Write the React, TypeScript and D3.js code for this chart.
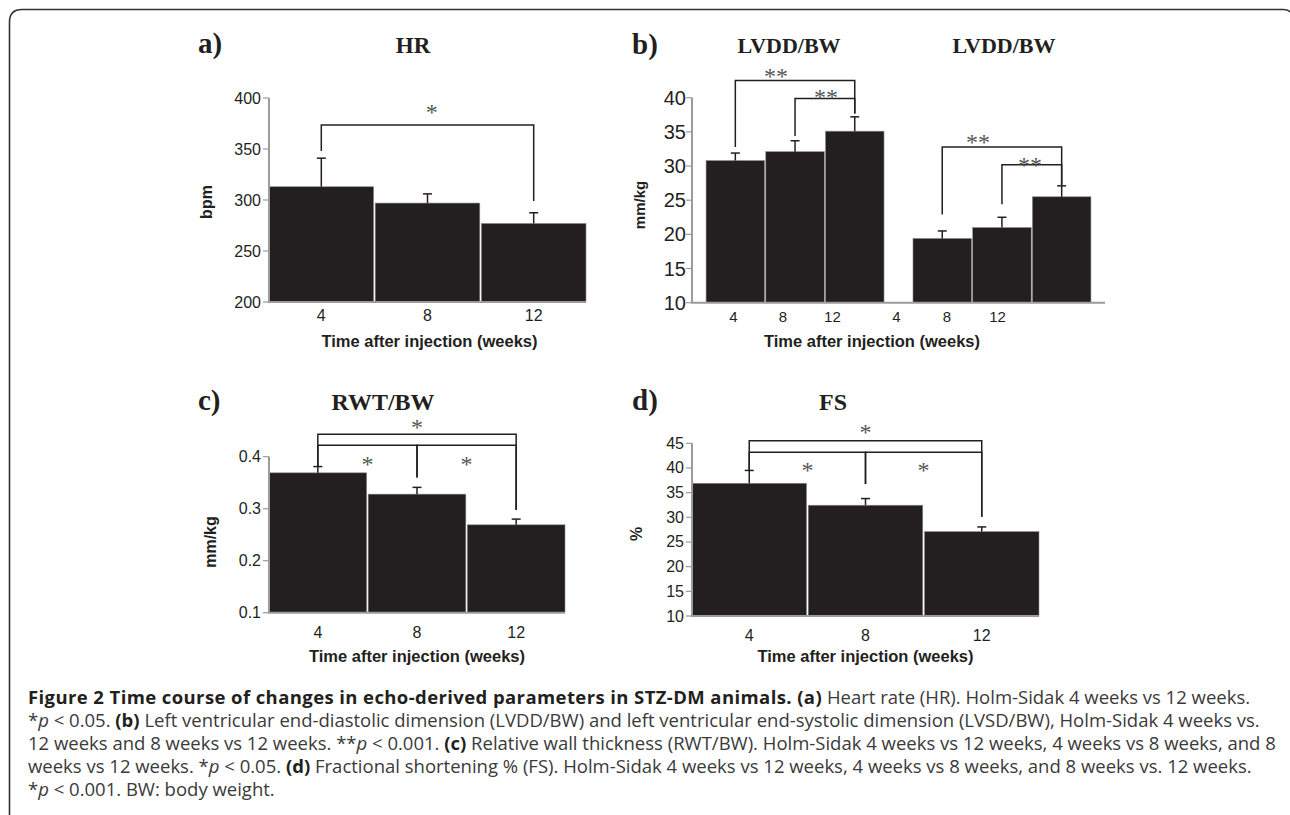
import React from "react";
import * as d3 from "d3";

// ---------- DATA ----------
const weeks = ["4", "8", "12"];

const hrValues = [313, 297, 277];
const hrErrors = [28, 9, 10.5];
const hrTicks = [200, 250, 300, 350, 400];

const lvGroups = ["LVDD/BW", "LVSD/BW"];
const lvTitles = ["LVDD/BW", "LVDD/BW"];
const lvddValues = [30.8, 32.1, 35.1];
const lvddErrors = [1.1, 1.6, 2.1];
const lvsdValues = [19.4, 21.0, 25.5];
const lvsdErrors = [1.1, 1.5, 1.6];
const lvTicks = [10, 15, 20, 25, 30, 35, 40];

const rwtValues = [0.369, 0.328, 0.269];
const rwtErrors = [0.012, 0.013, 0.011];
const rwtTicks = [0.1, 0.2, 0.3, 0.4];

const fsValues = [36.9, 32.45, 27.1];
const fsErrors = [2.6, 1.35, 0.95];
const fsTicks = [10, 15, 20, 25, 30, 35, 40, 45];

// brackets: from/to bar index, level (value), leg ends (values), star label, star x fraction, star level
type Bracket = { from: number; to: number; level: number; leftEnd: number; rightEnd: number; label: string; at: number; starLevel: number };
const hrBrackets: Bracket[] = [
  { from: 0, to: 2, level: 373.5, leftEnd: 348, rightEnd: 299, label: "*", at: 0.52, starLevel: 390 },
];
const lvddBrackets: Bracket[] = [
  { from: 0, to: 2, level: 42.5, leftEnd: 32.8, rightEnd: 37.7, label: "**", at: 0.34, starLevel: 43.8 },
  { from: 1, to: 2, level: 39.9, leftEnd: 34.4, rightEnd: 37.7, label: "**", at: 0.52, starLevel: 40.7 },
];
const lvsdBrackets: Bracket[] = [
  { from: 0, to: 2, level: 32.8, leftEnd: 22.9, rightEnd: 27.2, label: "**", at: 0.3, starLevel: 34.1 },
  { from: 1, to: 2, level: 30.2, leftEnd: 24.4, rightEnd: 27.2, label: "**", at: 0.47, starLevel: 30.8 },
];
const rwtBrackets: Bracket[] = [
  { from: 0, to: 2, level: 0.443, leftEnd: 0.381, rightEnd: 0.2975, label: "*", at: 0.5, starLevel: 0.465 },
  { from: 0, to: 1, level: 0.422, leftEnd: 0.381, rightEnd: 0.36, label: "*", at: 0.5, starLevel: 0.394 },
  { from: 1, to: 2, level: 0.422, leftEnd: 0.36, rightEnd: 0.2975, label: "*", at: 0.5, starLevel: 0.394 },
];
const fsBrackets: Bracket[] = [
  { from: 0, to: 2, level: 45.5, leftEnd: 39.5, rightEnd: 30.1, label: "*", at: 0.5, starLevel: 48.2 },
  { from: 0, to: 1, level: 43.2, leftEnd: 39.5, rightEnd: 36.75, label: "*", at: 0.5, starLevel: 40.5 },
  { from: 1, to: 2, level: 43.2, leftEnd: 36.75, rightEnd: 30.1, label: "*", at: 0.5, starLevel: 40.5 },
];

const xAxisTitle = "Time after injection (weeks)";

// caption lines: segments [text, style] where style b=bold, i=italic, n=normal
const captionLines: [string, string][][] = [
  [["Figure 2 Time course of changes in echo-derived parameters in STZ-DM animals. (a)", "b"], [" Heart rate (HR). Holm-Sidak 4 weeks vs 12 weeks.", "n"]],
  [["*", "n"], ["p", "i"], [" < 0.05. ", "n"], ["(b)", "b"], [" Left ventricular end-diastolic dimension (LVDD/BW) and left ventricular end-systolic dimension (LVSD/BW), Holm-Sidak 4 weeks vs.", "n"]],
  [["12 weeks and 8 weeks vs 12 weeks. **", "n"], ["p", "i"], [" < 0.001. ", "n"], ["(c)", "b"], [" Relative wall thickness (RWT/BW). Holm-Sidak 4 weeks vs 12 weeks, 4 weeks vs 8 weeks, and 8", "n"]],
  [["weeks vs 12 weeks. *", "n"], ["p", "i"], [" < 0.05. ", "n"], ["(d)", "b"], [" Fractional shortening % (FS). Holm-Sidak 4 weeks vs 12 weeks, 4 weeks vs 8 weeks, and 8 weeks vs. 12 weeks.", "n"]],
  [["*", "n"], ["p", "i"], [" < 0.001. BW: body weight.", "n"]],
];

// ---------- STYLE ----------
const BAR = "#231f20";
const AXIS = "#9b9b9b";
const SANS = "'Liberation Sans', Arial, Helvetica, sans-serif";
const SERIF = "'Liberation Serif', 'Times New Roman', serif";
const CAP = "'Open Sans', 'Noto Sans', sans-serif";

function YAxis({ y, x, ticks, fmt, fontSize, pad }: any) {
  const [r0, r1] = y.range();
  return (
    <g>
      <line x1={x} x2={x} y1={r0} y2={r1} stroke={AXIS} strokeWidth={2} />
      {ticks.map((t: number) => (
        <g key={t}>
          <line x1={x - 6} x2={x} y1={y(t)} y2={y(t)} stroke={AXIS} strokeWidth={1.2} />
          <text x={x - 6 - pad} y={y(t)} textAnchor="end" dominantBaseline="central" fontFamily={SANS} fontSize={fontSize} fill="#231f20">
            {fmt(t)}
          </text>
        </g>
      ))}
    </g>
  );
}

function Bars({ x, y, values, errors, keys }: any) {
  const base = y.domain()[0];
  return (
    <g>
      {values.map((v: number, i: number) => (
        <rect key={"b" + i} x={x(keys[i])} y={y(v)} width={x.bandwidth()} height={y(base) - y(v)} fill={BAR} stroke="#8a8a8a" strokeWidth={0.6} />
      ))}
      {values.map((v: number, i: number) => {
        const cx = x(keys[i]) + x.bandwidth() / 2;
        return (
          <g key={"e" + i} stroke="#231f20" strokeWidth={1.5}>
            <line x1={cx} x2={cx} y1={y(v)} y2={y(v + errors[i])} />
            <line x1={cx - 4.5} x2={cx + 4.5} y1={y(v + errors[i])} y2={y(v + errors[i])} />
          </g>
        );
      })}
    </g>
  );
}

function Brackets({ x, y, keys, brackets, fontSize }: any) {
  return (
    <g>
      {brackets.map((b: Bracket, i: number) => {
        const x1 = x(keys[b.from]) + x.bandwidth() / 2;
        const x2 = x(keys[b.to]) + x.bandwidth() / 2;
        const ly = y(b.level);
        return (
          <g key={i}>
            <path d={`M${x1},${y(b.leftEnd)}V${ly}H${x2}V${y(b.rightEnd)}`} fill="none" stroke="#231f20" strokeWidth={1.5} />
            <text x={x1 + (x2 - x1) * b.at} y={y(b.starLevel) + fontSize * 0.5} textAnchor="middle" fontFamily={SERIF} fontSize={fontSize} fill="#555555">
              {b.label}
            </text>
          </g>
        );
      })}
    </g>
  );
}

function XAxisLine({ x0, x1, y0 }: any) {
  return <line x1={x0 - 1} x2={x1} y1={y0} y2={y0} stroke={AXIS} strokeWidth={2} />;
}

const STAR = 24;

function SimplePanel(p: any) {
  const x = d3.scaleBand<string>().domain(weeks).range([p.left, p.right]).paddingInner(0.015).paddingOuter(0);
  const y = d3.scaleLinear().domain([p.ticks[0], p.ticks[p.ticks.length - 1]]).range([p.bottom, p.top]);
  return (
    <g>
      <text x={p.letterX} y={p.titleY} fontFamily={SERIF} fontWeight="bold" fontSize={29} fill="#231f20">{p.letter}</text>
      <text x={p.titleX} y={p.titleY} textAnchor="middle" fontFamily={SERIF} fontWeight="bold" fontSize={p.titleSize} fill="#231f20">{p.title}</text>
      <Bars x={x} y={y} values={p.values} errors={p.errors} keys={weeks} />
      <Brackets x={x} y={y} keys={weeks} brackets={p.brackets} fontSize={STAR} />
      <YAxis y={y} x={p.left} ticks={p.ticks} fmt={p.fmt} fontSize={16} pad={2} />
      <XAxisLine x0={p.left} x1={p.right} y0={p.bottom} />
      {weeks.map((w) => (
        <text key={w} x={(x(w) as number) + x.bandwidth() / 2} y={p.xLabelY} textAnchor="middle" fontFamily={SANS} fontSize={16} fill="#231f20">{w}</text>
      ))}
      <text x={(p.left + p.right) / 2 + p.xTitleShift} y={p.xTitleY} textAnchor="middle" fontFamily={SANS} fontWeight="bold" fontSize={16.5} fill="#231f20">{xAxisTitle}</text>
      <text transform={`translate(${p.yTitleX},${p.yTitleY}) rotate(-90)`} textAnchor="middle" dominantBaseline="central" fontFamily={SANS} fontWeight="bold" fontSize={p.yTitleSize} fill="#231f20">{p.yTitle}</text>
    </g>
  );
}

function LVPanel() {
  const left = 692, right = 1105, top = 97.7, bottom = 302.7;
  const gx = d3.scaleBand<string>().domain(lvGroups).range([left, right]).paddingInner(0.14).paddingOuter(0.068);
  const y = d3.scaleLinear().domain([lvTicks[0], lvTicks[lvTicks.length - 1]]).range([bottom, top]);
  const groupsData = [
    { values: lvddValues, errors: lvddErrors, brackets: lvddBrackets },
    { values: lvsdValues, errors: lvsdErrors, brackets: lvsdBrackets },
  ];
  const frac = d3.scaleLinear().domain([0, 1]).range([left, right]);
  const labelScales = [
    d3.scalePoint<string>().domain(weeks).range([frac(0.1), frac(0.34)]),
    d3.scalePoint<string>().domain(weeks).range([frac(0.495), frac(0.74)]),
  ];
  return (
    <g>
      <text x={632} y={54} fontFamily={SERIF} fontWeight="bold" fontSize={29} fill="#231f20">b)</text>
      {lvGroups.map((g, gi) => {
        const inner = d3.scaleBand<string>().domain(weeks).range([gx(g) as number, (gx(g) as number) + gx.bandwidth()]).paddingInner(0.02);
        const d = groupsData[gi];
        return (
          <g key={g}>
            <text x={(gx(g) as number) + gx.bandwidth() / 2 + (gi === 0 ? -6 : 2)} y={53} textAnchor="middle" fontFamily={SERIF} fontWeight="bold" fontSize={22} fill="#231f20">{lvTitles[gi]}</text>
            <Bars x={inner} y={y} values={d.values} errors={d.errors} keys={weeks} />
            <Brackets x={inner} y={y} keys={weeks} brackets={d.brackets} fontSize={STAR} />
            {weeks.map((w) => (
              <text key={w} x={labelScales[gi](w)} y={322} textAnchor="middle" fontFamily={SANS} fontSize={15} fill="#231f20">{w}</text>
            ))}
          </g>
        );
      })}
      <YAxis y={y} x={left} ticks={lvTicks} fmt={(t: number) => String(t)} fontSize={20} pad={0} />
      <XAxisLine x0={left} x1={right} y0={bottom} />
      <text x={872} y={347} textAnchor="middle" fontFamily={SANS} fontWeight="bold" fontSize={16.5} fill="#231f20">{xAxisTitle}</text>
      <text transform={`translate(639,205) rotate(-90)`} textAnchor="middle" dominantBaseline="central" fontFamily={SANS} fontWeight="bold" fontSize={15} fill="#231f20">mm/kg</text>
    </g>
  );
}

function Caption() {
  return (
    <g>
      {captionLines.map((line, li) => (
        <text key={li} x={28} y={704 + li * 23} fontFamily={CAP} fontSize={18.5} fill="#3a3a3a">
          {line.map(([t, s], si) => (
            <tspan key={si} fontWeight={s === "b" ? 700 : "normal"} fontStyle={s === "i" ? "italic" : "normal"} fill={s === "b" ? "#231f20" : "#3a3a3a"} letterSpacing={s === "b" && t.length > 10 ? 0.4 : 0}>
              {t}
            </tspan>
          ))}
        </text>
      ))}
    </g>
  );
}

export default function App() {
  return (
    <svg width={1290} height={815} style={{ position: "absolute", left: 0, top: 0, background: "#fff" }}>
      <rect x={0} y={0} width={1290} height={815} fill="#fff" />
      <path d="M9.5,815V22Q9.5,9.5 22,9.5H1283Q1288,9.5 1290,12" fill="none" stroke="#333" strokeWidth={1.6} />
      <SimplePanel
        left={269} right={586} top={98} bottom={302}
        ticks={hrTicks} fmt={(t: number) => String(t)}
        values={hrValues} errors={hrErrors} brackets={hrBrackets}
        letter="a)" letterX={198} title="HR" titleX={413} titleY={53} titleSize={23}
        xLabelY={321} xTitleY={347} xTitleShift={2}
        yTitle="bpm" yTitleX={206} yTitleY={202} yTitleSize={16}
      />
      <LVPanel />
      <SimplePanel
        left={269} right={565} top={456.7} bottom={612.7}
        ticks={rwtTicks} fmt={d3.format(".1f")}
        values={rwtValues} errors={rwtErrors} brackets={rwtBrackets}
        letter="c)" letterX={198} title="RWT/BW" titleX={383} titleY={410} titleSize={24}
        xLabelY={638} xTitleY={662} xTitleShift={0}
        yTitle="mm/kg" yTitleX={210} yTitleY={542} yTitleSize={16}
      />
      <SimplePanel
        left={692} right={1039} top={443.3} bottom={616}
        ticks={fsTicks} fmt={(t: number) => String(t)}
        values={fsValues} errors={fsErrors} brackets={fsBrackets}
        letter="d)" letterX={632} title="FS" titleX={833} titleY={410} titleSize={24}
        xLabelY={641} xTitleY={662} xTitleShift={0}
        yTitle="%" yTitleX={636} yTitleY={534} yTitleSize={16}
      />
      <Caption />
    </svg>
  );
}
